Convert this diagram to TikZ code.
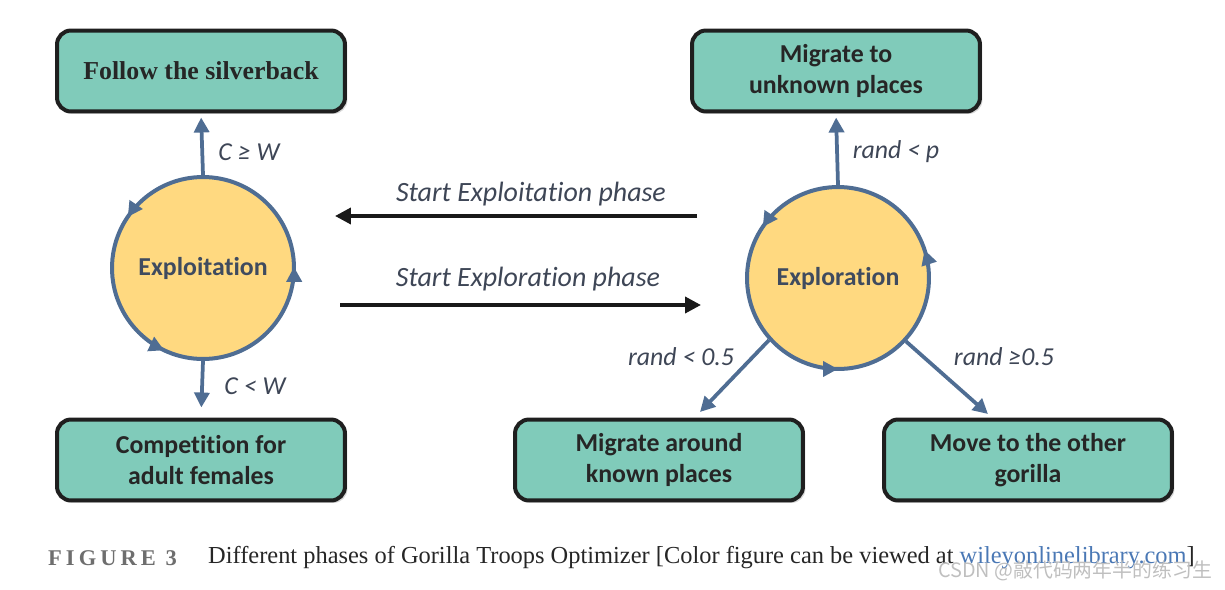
\documentclass[tikz,border=0pt]{standalone}
\usepackage{fontspec}
\setmainfont{Carlito}[Ligatures=NoCommon]
\newfontfamily\serifcap{Liberation Serif}
\newfontfamily\figlabel[LetterSpace=18]{Liberation Serif}
\newfontfamily\cjkfont{Noto Sans CJK SC}
\usetikzlibrary{arrows.meta,shadows,decorations.markings}
\definecolor{boxteal}{HTML}{80CBBA}
\definecolor{sunyellow}{HTML}{FFD980}
\definecolor{loopblue}{HTML}{4F6D93}
\definecolor{labeltext}{HTML}{3E4656}
\definecolor{phasetext}{HTML}{3F4B5F}
\definecolor{capgray}{HTML}{6E6E6E}
\definecolor{linkblue}{HTML}{4A78B5}

\begin{document}
\begin{tikzpicture}[x=0.02cm, y=-0.02cm,
    box/.style={draw=black!88, line width=0.08cm, fill=boxteal, rounded corners=0.28cm,
      minimum width=5.76cm, minimum height=1.62cm, align=center, text=black!85,
      font=\bfseries\fontsize{14.7}{18}\selectfont,
      drop shadow={shadow xshift=0.05cm, shadow yshift=-0.05cm, opacity=0.3}},
    phase/.style={circle, draw=loopblue, line width=0.08cm, fill=sunyellow,
      minimum size=3.64cm, text=phasetext, font=\bfseries\fontsize{14.7}{18}\selectfont},
    loopmarks/.style n args={3}{postaction={decorate, decoration={markings,
      mark=at position #1 with {\arrow{Triangle[length=0.3cm, width=0.3cm, color=loopblue]}},
      mark=at position #2 with {\arrow{Triangle[length=0.3cm, width=0.3cm, color=loopblue]}},
      mark=at position #3 with {\arrow{Triangle[length=0.3cm, width=0.3cm, color=loopblue]}}}}},
    cond/.style={text=labeltext, font=\itshape\fontsize{14.7}{18}\selectfont},
    switchlabel/.style={text=labeltext, font=\itshape\fontsize{15.9}{19}\selectfont},
    blueflow/.style={draw=loopblue, line width=0.075cm, -{Triangle[length=0.3cm, width=0.3cm]}},
    phaseflow/.style={draw=black!90, line width=0.075cm, -{Triangle[length=0.32cm, width=0.32cm]}}]
  \useasboundingbox (0,0) rectangle (1225,589);

  % boxes
  \node[box, font=\serifcap\bfseries\fontsize{14.7}{18}\selectfont] (follow) at (201,71) {Follow the silverback};
  \node[box] (unknown) at (836,71) {Migrate to\\unknown places};
  \node[box] (compete) at (201,460) {Competition for\\adult females};
  \node[box] (known) at (659,460) {Migrate around\\known places};
  \node[box] (other) at (1028,460) {Move to the other\\gorilla};

  % phases
  \node[phase, loopmarks={0.002}{0.405}{0.68}] (exploit) at (203,268) {Exploitation};
  \node[phase, loopmarks={0.05}{0.405}{0.75}] (explore) at (838,278) {Exploration};

  \draw[blueflow, shorten >=0.08cm] (exploit.north) -- (follow.south);
  \draw[blueflow, shorten >=0.2cm] (exploit.south) -- (compete.north);
  \draw[blueflow, shorten >=0.08cm] (explore.north) -- (unknown.south);
  \coordinate (knowntip) at (700,412);
  \coordinate (othertip) at (988,414);
  \draw[blueflow] (explore.-138) -- (knowntip);
  \draw[blueflow] (explore.-43) -- (othertip);

  \node[cond] (cgw) at (249,152) {C ≥ W};
  \node[cond] (clw) at (255,386) {C < W};
  \node[cond] (rp) at (896,152) {rand < p};
  \node[cond] (rlow) at (681,357) {rand < 0.5};
  \node[cond] (rhigh) at (1004,357) {rand ≥0.5};

  % phase switches
  \coordinate (toexploitA) at (697,216);
  \coordinate (toexploitB) at (335,216);
  \coordinate (toexploreA) at (340,305);
  \coordinate (toexploreB) at (701,305);
  \draw[phaseflow] (toexploitA) -- (toexploitB);
  \draw[phaseflow] (toexploreA) -- (toexploreB);
  \node[switchlabel] (startexploit) at (531,194) {Start Exploitation phase};
  \node[switchlabel] (startexplore) at (528,279) {Start Exploration phase};

  % caption
  \node[anchor=west, text=capgray, font=\figlabel\bfseries\fontsize{12.8}{15}\selectfont] (figno) at (42,558) {FIGURE 3};
  \node[anchor=west, text=black!85, font=\serifcap\fontsize{13.9}{16}\selectfont] (caption) at (202,558)
    {Different phases of Gorilla Troops Optimizer [Color figure can be viewed at \textcolor{linkblue}{wileyonlinelibrary.com}]};
  \node[text=gray!50, font=\cjkfont\fontsize{11.3}{13}\selectfont] (watermark) at (1075,571) {CSDN @敲代码两年半的练习生};
\end{tikzpicture}
\end{document}
